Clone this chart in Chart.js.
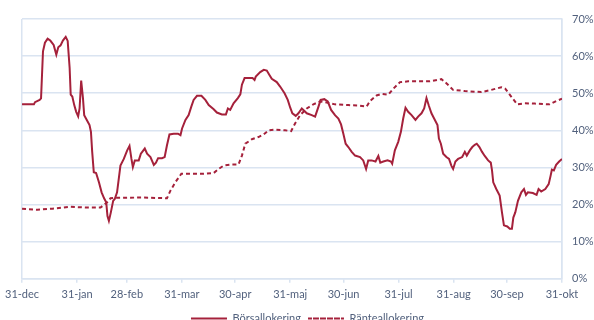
<!DOCTYPE html>
<html>
<head>
<meta charset="utf-8">
<script src="https://cdn.jsdelivr.net/npm/chart.js@4.4.1/dist/chart.umd.min.js"></script>
<style>
    html, body { margin: 0; padding: 0; background: #fff; overflow: hidden; }
    #wrap { width: 594px; height: 320px; overflow: hidden; }
</style>
</head>
<body>
<div id="wrap"><canvas id="alloc-chart" width="594" height="334"></canvas></div>
<script>
// x = days after 31 Dec
const monthDays = [0, 31, 59, 90, 120, 151, 181, 212, 243, 273, 304];
const monthLabels = ['31-dec', '31-jan', '28-feb', '31-mar', '30-apr', '31-maj', '30-jun', '31-jul', '31-aug', '30-sep', '31-okt'];
const yTicks = [0, 10, 20, 30, 40, 50, 60, 70];

const borsDays = [0, 6.7, 7.3, 9.9, 10.7, 11.8, 12.9, 14.4, 15.9, 17.8, 19.3, 20.4, 21.7, 23.0, 24.6, 25.7, 26.8, 27.4, 28.3, 29.4,
    30.5, 31.6, 32.4, 33.3, 34.3, 35.0, 36.3, 38.0, 38.8, 39.5, 40.4, 41.7, 43.3, 44.8, 46.2, 47.4, 48.1, 48.9, 50.0, 51.3,
    52.2, 53.5, 55.4, 57.3, 59.2, 60.5, 61.6, 62.4, 63.5, 65.7, 66.9, 69.1, 70.4, 72.3, 74.2, 75.4, 76.6, 78.8, 80.3, 81.6,
    83.0, 85.4, 87.8, 89.2, 90.1, 92.0, 93.8, 95.3, 96.6, 98.5, 101.0, 103.2, 105.1, 107.9, 109.7, 112.5, 114.8, 115.9, 117.2, 119.1,
    121.5, 122.9, 123.8, 125.3, 129.8, 130.9, 131.6, 134.1, 136.1, 137.8, 139.2, 140.6, 143.4, 145.3, 147.8, 149.6, 151.0, 152.2, 154.1, 155.6,
    157.5, 159.0, 160.3, 163.1, 165.0, 166.9, 168.1, 170.2, 172.1, 174.0, 176.2, 178.1, 179.6, 180.9, 182.2, 183.7, 185.6, 187.5, 190.3, 192.1,
    193.7, 194.9, 196.8, 199.0, 200.6, 201.7, 203.4, 205.8, 207.7, 208.4, 209.9, 211.8, 213.3, 214.6, 215.9, 217.4, 219.3, 221.5, 223.0, 224.9,
    226.4, 227.7, 229.0, 230.5, 232.0, 233.9, 234.7, 235.8, 237.1, 238.9, 240.4, 241.7, 242.7, 244.0, 245.5, 247.8, 249.3, 250.4, 252.1, 253.5,
    254.9, 256.0, 257.5, 259.0, 260.5, 262.4, 263.9, 264.6, 265.3, 267.0, 268.9, 270.2, 271.3, 273.2, 274.6, 275.8, 276.6, 277.7, 279.2, 281.1,
    282.6, 283.7, 284.8, 287.6, 289.7, 290.8, 292.3, 294.6, 296.5, 297.6, 298.3, 299.4, 300.7, 302.4, 304];
const borsValues = [47.0, 47.0, 47.6, 48.2, 48.6, 61.3, 63.6, 64.7, 64.2, 63.0, 60.4, 62.4, 62.9, 64.2, 65.2, 64.1, 56.8, 49.6, 49.1, 46.8,
    45.0, 43.8, 45.9, 53.4, 48.7, 44.1, 42.9, 41.4, 39.6, 34.2, 28.7, 28.5, 26.0, 23.3, 21.7, 20.6, 16.9, 15.6, 17.9, 21.0,
    21.5, 23.3, 30.5, 32.3, 34.6, 35.8, 32.3, 30.1, 31.9, 31.9, 33.7, 35.1, 33.7, 32.8, 30.7, 31.3, 32.5, 32.5, 32.8, 36.0,
    38.9, 39.1, 39.1, 38.7, 40.5, 42.8, 44.1, 46.4, 48.2, 49.3, 49.3, 48.2, 46.8, 45.7, 44.8, 44.3, 44.3, 45.9, 45.5, 47.3,
    48.7, 49.7, 52.3, 54.1, 54.1, 53.6, 54.5, 55.7, 56.3, 56.1, 55.0, 53.9, 53.0, 51.8, 50.0, 48.2, 46.1, 44.6, 43.9, 44.6,
    45.9, 45.2, 44.6, 44.1, 43.7, 46.4, 48.2, 48.4, 47.8, 45.5, 44.1, 43.2, 41.6, 39.1, 36.4, 35.5, 34.2, 33.2, 32.8, 31.9,
    29.6, 31.9, 31.9, 31.6, 33.1, 31.3, 31.6, 31.9, 31.6, 31.0, 34.6, 36.9, 39.6, 43.2, 46.1, 45.0, 44.1, 42.8, 43.7, 44.6,
    45.9, 48.7, 46.7, 44.6, 43.2, 41.4, 37.8, 36.4, 33.7, 32.8, 32.3, 30.5, 29.6, 31.6, 32.3, 32.8, 34.2, 33.2, 34.6, 35.5,
    36.1, 36.4, 35.5, 34.2, 33.1, 31.9, 31.3, 29.2, 26.0, 24.2, 22.4, 17.9, 14.4, 14.1, 13.5, 13.5, 16.5, 17.9, 21.0, 23.3,
    24.2, 22.6, 23.3, 23.1, 22.6, 24.2, 23.5, 24.2, 25.5, 27.8, 29.4, 29.2, 30.7, 31.6, 32.3];

const ranteDays = [0, 8.6, 17.0, 27.4, 35.8, 44.2, 47.9, 49.8, 51.7, 67.6, 81.6, 83.5, 86.3, 89.7, 102.2, 107.9, 110.7, 113.5, 118.1, 121.9,
    123.8, 125.7, 129.4, 133.1, 136.0, 138.8, 142.5, 148.1, 151.5, 153.8, 156.6, 160.3, 164.0, 167.8, 170.6, 176.2, 183.7, 189.3, 194.0, 195.9,
    199.6, 202.4, 206.2, 209.0, 212.8, 217.4, 223.0, 229.6, 236.1, 238.9, 242.7, 249.3, 258.6, 264.2, 269.8, 272.1, 275.4, 278.8, 283.0, 288.6,
    297.0, 300.7, 304];
const ranteValues = [18.9, 18.6, 18.9, 19.4, 19.2, 19.2, 20.6, 21.7, 21.8, 21.9, 21.7, 23.7, 26.0, 28.3, 28.3, 28.5, 29.6, 30.5, 30.8, 30.8,
    33.2, 36.4, 37.6, 38.2, 38.9, 40.0, 40.2, 40.0, 39.8, 41.9, 44.1, 45.9, 47.0, 47.8, 47.6, 47.0, 46.8, 46.7, 46.4, 47.9,
    49.4, 49.8, 49.6, 51.2, 53.0, 53.2, 53.2, 53.2, 53.8, 52.7, 50.9, 50.6, 50.3, 50.9, 51.6, 51.2, 49.1, 47.0, 47.3, 47.2,
    47.0, 47.9, 48.5];

const lineColor = '#A5213B';
const gridColor = '#DAE4F1';
const textColor = '#52617D';

function toPoints(days, values) {
    return days.map((d, i) => ({ x: d, y: values[i] }));
}

const ctx = document.getElementById('alloc-chart').getContext('2d');
new Chart(ctx, {
    type: 'line',
    data: {
        datasets: [{
            label: 'Börsallokering',
            data: toPoints(borsDays, borsValues),
            borderColor: lineColor,
            borderWidth: 2,
            pointRadius: 0,
            tension: 0
        }, {
            label: 'Ränteallokering',
            data: toPoints(ranteDays, ranteValues),
            borderColor: lineColor,
            borderWidth: 2,
            borderDash: [4, 3],
            pointRadius: 0,
            tension: 0
        }]
    },
    options: {
        responsive: false,
        animation: false,
        layout: { padding: { left: 21, right: 0, top: 19, bottom: 0 } },
        plugins: {
            tooltip: { enabled: false },
            legend: {
                position: 'bottom',
                labels: {
                    color: textColor,
                    font: { family: 'Lato', size: 11 },
                    boxWidth: 36,
                    boxHeight: 0,
                    padding: 7,
                    generateLabels: (chart) => chart.data.datasets.map((ds, i) => ({
                        text: ds.label,
                        fillStyle: 'rgba(0,0,0,0)',
                        strokeStyle: ds.borderColor,
                        lineWidth: 2,
                        lineDash: ds.borderDash || [],
                        fontColor: textColor,
                        datasetIndex: i
                    }))
                }
            }
        },
        scales: {
            x: {
                type: 'linear',
                min: 0,
                max: 304,
                afterBuildTicks: (axis) => { axis.ticks = monthDays.map(v => ({ value: v })); },
                ticks: {
                    color: textColor,
                    font: { family: 'Lato', size: 11 },
                    autoSkip: false,
                    maxRotation: 0,
                    padding: 5,
                    callback: (v) => monthLabels[monthDays.indexOf(v)]
                },
                grid: {
                    color: (c) => (c.tick && (c.tick.value === 0 || c.tick.value === 304)) ? gridColor : 'rgba(0,0,0,0)',
                    tickColor: gridColor,
                    tickLength: 4,
                    lineWidth: 1.5
                },
                border: { color: gridColor, width: 1.5 }
            },
            y: {
                position: 'right',
                min: 0,
                max: 70,
                afterBuildTicks: (axis) => { axis.ticks = yTicks.map(v => ({ value: v })); },
                afterFit: (axis) => { axis.width = 32; },
                ticks: {
                    color: textColor,
                    font: { family: 'Lato', size: 11 },
                    padding: 10,
                    callback: (v) => v + '%'
                },
                grid: {
                    color: gridColor,
                    lineWidth: 1.5,
                    drawTicks: false
                },
                border: { color: gridColor, width: 1.5 }
            }
        }
    }
});
</script>
</body>
</html>
